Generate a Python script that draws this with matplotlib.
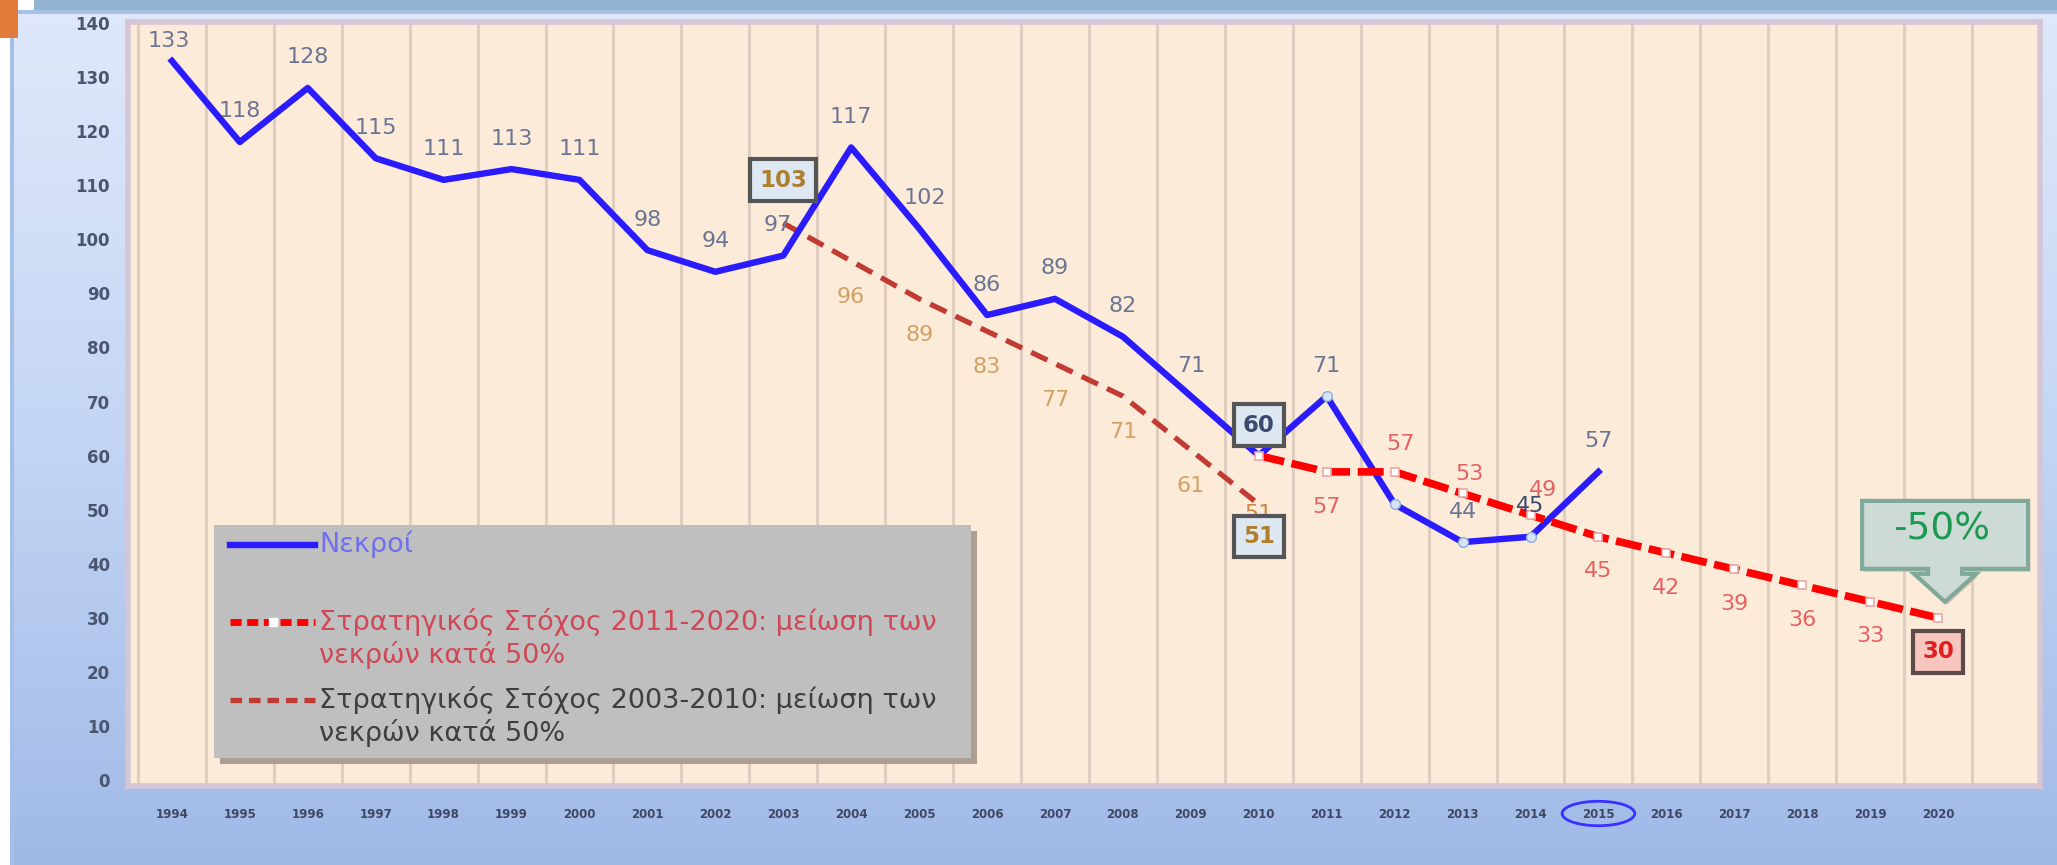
import matplotlib
matplotlib.use("Agg")
import numpy as np
import matplotlib.pyplot as plt
from matplotlib.patches import Rectangle, Ellipse, Polygon
from matplotlib.lines import Line2D
from matplotlib.colors import LinearSegmentedColormap
from matplotlib.transforms import Affine2D, ScaledTranslation, blended_transform_factory

# data
years = [str(y) for y in range(1994, 2021)]
deaths = [133, 118, 128, 115, 111, 113, 111, 98, 94, 97, 117, 102, 86, 89, 82,
          71, 60, 71, 51, 44, 45, 57]                      # 1994-2015
target_2020 = [60, 57, 57, 53, 49, 45, 42, 39, 36, 33, 30]  # 2010-2020
target_2010 = [103, 96, 89, 83, 77, 71, 61, 51]             # 2003-2010
yticks = list(range(0, 150, 10))

lbl_deaths = "Νεκροί"
lbl_2020 = "Στρατηγικός Στόχος 2011-2020: μείωση των\nνεκρών κατά 50%"
lbl_2010 = "Στρατηγικός Στόχος 2003-2010: μείωση των\nνεκρών κατά 50%"

x_deaths = np.arange(len(deaths))
x_t2020 = np.arange(len(target_2020)) + years.index("2010")
x_t2010 = np.arange(len(target_2010)) + years.index("2003")

BLUE = "#2a1cff"
RED = "#ff0000"
BROWN = "#c23b33"

fig = plt.figure(figsize=(20.57, 8.65), dpi=100)
W, H = 2057, 865

# background gradient + slide decorations
bg = fig.add_axes([0, 0, 1, 1], zorder=-5)
cmap = LinearSegmentedColormap.from_list("bg", ["#a0b9e7", "#c4d6f4", "#e0e9fb"])
bg.imshow(np.linspace(0, 1, 256).reshape(-1, 1), extent=[0, 1, 0, 1],
          aspect="auto", cmap=cmap, origin="lower")
bg.set_xlim(0, 1)
bg.set_ylim(0, 1)
bg.axis("off")
bg.add_patch(Rectangle((0, 0), 10 / W, 1, color="white", lw=0))
bg.add_patch(Rectangle((10 / W, 0), 4 / W, 1 - 10 / H, color="#a4c0e8", lw=0))
bg.add_patch(Rectangle((10 / W, 1 - 14 / H), 1, 4 / H, color="#a6c0e6", lw=0))
bg.add_patch(Rectangle((34 / W, 1 - 10 / H), 1, 10 / H, color="#92b4d2", lw=0))
bg.add_patch(Rectangle((18 / W, 1 - 10 / H), 16 / W, 10 / H, color="white", lw=0))
bg.add_patch(Rectangle((0, 1 - 38 / H), 18 / W, 38 / H, color="#e07b3b", lw=0))

ax = fig.add_axes([128 / W, 1 - 786 / H, (2040 - 128) / W, (786 - 22) / H])
ax.set_facecolor("#fdebd9")
ax.set_xlim(-0.646, 27.49)
ax.set_ylim(-1.1, 140.2)

# vertical category separators
ax.set_xticks(np.arange(-0.5, 28, 1), minor=True)
ax.grid(True, which="minor", axis="x", color="#dfcdbf", lw=2.2)
ax.tick_params(which="minor", length=0)

ax.set_xticks(range(len(years)))
ax.set_xticklabels(years, fontsize=8.5, fontweight="bold", color="#3e4862")
ax.tick_params(axis="x", length=0, pad=16)
ax.set_yticks(yticks)
ax.set_yticklabels([str(v) for v in yticks], fontsize=12, fontweight="bold",
                   color="#4a5570")
ax.tick_params(axis="y", length=0, pad=13)
for s in ax.spines.values():
    s.set_color("#d4c6d4")
    s.set_linewidth(4)

# lines
ax.plot(x_t2010, target_2010, color=BROWN, lw=3.8, dashes=(3.4, 1.9), zorder=3)
ax.plot(x_deaths, deaths, color=BLUE, lw=4.6, solid_joinstyle="round", zorder=4,
        marker="o", markevery=[17, 18, 19, 20], ms=7, mfc="#d8e4f4", mec="#8ab0e0")
ax.plot(x_t2020, target_2020, color=RED, lw=5.5, dashes=(3.4, 1.0), zorder=5,
        marker="s", ms=6, mfc="white", mec="#e8a8a8", mew=1.2)

# data labels
lab_font = dict(fontsize=16, ha="center", va="center", zorder=7)
blue_dx = {"1994": -2, "2003": -4, "2005": 4}
blue_dy = {"1994": 14}
for x, v in zip(x_deaths, deaths):
    yr = years[x]
    if yr in ("2010", "2012"):
        continue
    c = "#3c4a72" if yr == "2014" else "#6b7593"
    ax.annotate(str(v), (x, v), xytext=(blue_dx.get(yr, 0), blue_dy.get(yr, 22)),
                textcoords="offset points", color=c, **lab_font)

red_off = {"2012": (4, 20), "2013": (5, 14), "2014": (9, 18)}
for x, v in zip(x_t2020, target_2020):
    yr = years[x]
    if yr in ("2010", "2020"):
        continue
    ax.annotate(str(v), (x, v), xytext=red_off.get(yr, (0, -25)),
                textcoords="offset points", color="#e66262", **lab_font)

for x, v in zip(x_t2010, target_2010):
    yr = years[x]
    if yr == "2003":
        continue
    dy = -7 if yr == "2010" else -26
    ax.annotate(str(v), (x, v), xytext=(0, dy), textcoords="offset points",
                color="#c98a48" if yr == "2010" else "#d4a062", **lab_font)


def boxed(x, v, dy, tcolor, fcolor, ecolor="#555555"):
    ax.annotate(str(v), (x, v), xytext=(0, dy), textcoords="offset points",
                fontsize=16.5, fontweight="bold", color=tcolor, ha="center",
                va="center", zorder=8,
                bbox=dict(boxstyle="square,pad=0.4", fc=fcolor, ec=ecolor, lw=3))


i03 = years.index("2003")
i10 = years.index("2010")
i20 = years.index("2020")
boxed(i03, target_2010[0], 31, "#b07f2e", "#dde8f3")
boxed(i10, deaths[i10], 22, "#3c4a70", "#dde8f3")
boxed(i10, target_2010[-1], -23, "#b07f2e", "#dde8f3")
boxed(i20, target_2020[-1], -24.5, "#e02020", "#f8c6bf", "#5a4a48")

# "-50%" callout anchored at the 2020 target (vertex offsets in points)
anchor = ScaledTranslation(i20, target_2020[-1], ax.transData)
tr = Affine2D().scale(1 / 72) + fig.dpi_scale_trans + anchor
call = [(-54.7, 35.3), (-7.2, 35.3), (-7.2, 31.7), (-17.3, 31.7), (5.0, 11.5),
        (27.4, 31.7), (17.3, 31.7), (17.3, 35.3), (64.8, 35.3), (64.8, 84.2),
        (-54.7, 84.2)]
shadow_tr = tr + Affine2D().translate(2, -3)
ax.add_patch(Polygon(call, closed=True, transform=shadow_tr, fc="#c9b8a8",
                     ec="none", zorder=8, clip_on=False, alpha=0.7))
ax.add_patch(Polygon(call, closed=True, transform=tr, fc="#cddad5", ec="#80a99a",
                     lw=3, zorder=9, clip_on=False))
ax.text(2.2, 63.4, "-50%", transform=tr, fontsize=27, color="#1c9a52",
        ha="center", va="center", zorder=10)

# circle round 2015 tick label
bt = blended_transform_factory(ax.transData, ax.transAxes)
ax.add_patch(Ellipse((years.index("2015"), -0.036), 1.07, 0.032, transform=bt,
                     fill=False, ec="#3a30ff", lw=2, clip_on=False, zorder=10))

# legend box drawn by hand to match the layout
ax.add_patch(Rectangle((0.0449 + 0.003, 0.0366 - 0.008), 0.396, 0.305,
                       transform=ax.transAxes, fc="#ab9e92", ec="none", zorder=10))
ax.add_patch(Rectangle((0.0449, 0.0366), 0.396, 0.305, transform=ax.transAxes,
                       fc="#bfbfbf", ec="none", zorder=11))
items = [((0.316,), dict(color=BLUE, lw=4.6), lbl_deaths, "#6f6ff0"),
         ((0.215, 0.172), dict(color=RED, lw=5, dashes=(1.6, 0.8), marker="s", ms=6,
                               mfc="white", mec="white", markevery=[1]),
          lbl_2020, "#cf4856"),
         ((0.112, 0.069), dict(color=BROWN, lw=3.8, dashes=(2.2, 1.3)),
          lbl_2010, "#3f3f3f")]
for ys, st, txt, tc in items:
    ax.add_line(Line2D([0.0534, 0.0757, 0.098], [ys[0]] * 3,
                       transform=ax.transAxes, zorder=12, **st))
    for y, line in zip(ys, txt.split("\n")):
        ax.text(0.1, y, line, transform=ax.transAxes, fontsize=19.5,
                color=tc, ha="left", va="center", zorder=12)

fig.savefig("out.png", dpi=100)
